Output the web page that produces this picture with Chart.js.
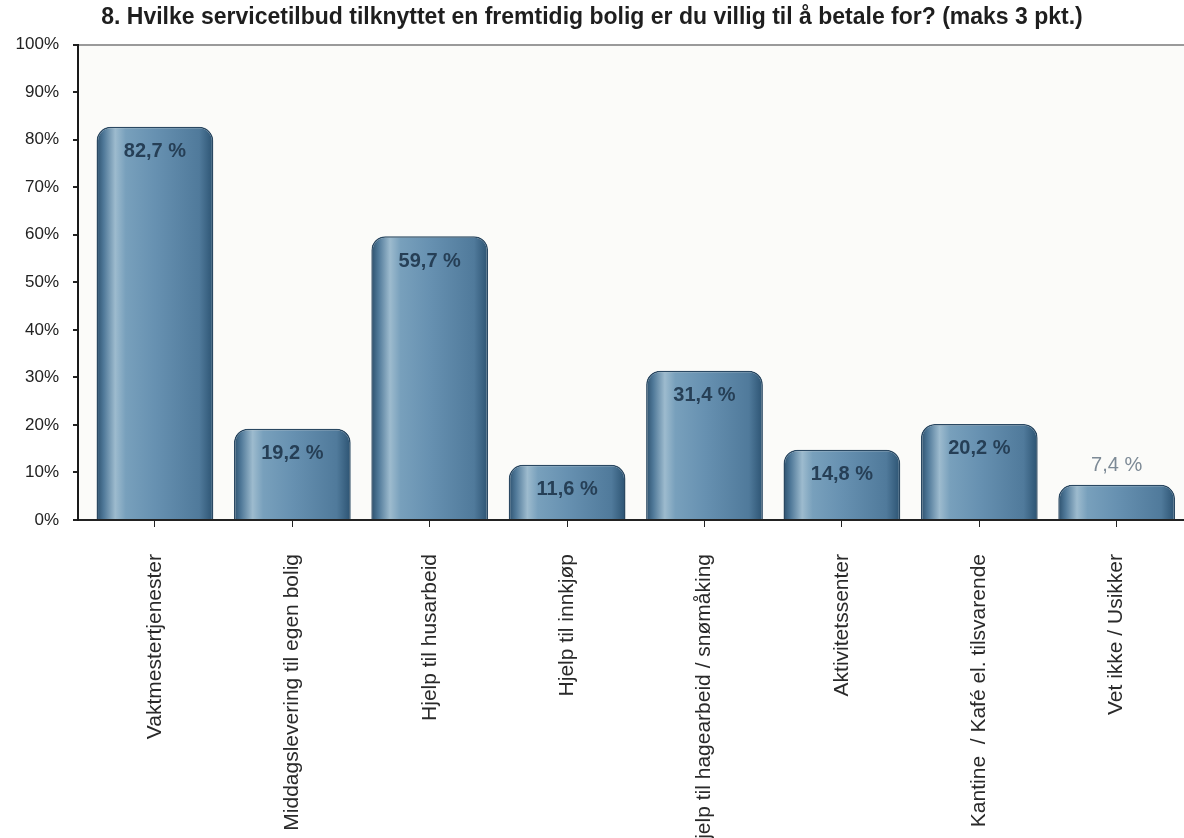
<!DOCTYPE html>
<html>
<head>
<meta charset="utf-8">
<script src="https://cdn.jsdelivr.net/npm/chart.js@4"></script>
<style>
  body { margin: 0; background: #fff; }
</style>
</head>
<body>
<canvas id="myChart" width="1184" height="838"></canvas>
<script>
// Answers per service offer, percent of respondents
let categories = [
    'Vaktmestertjenester',
    'Middagslevering til egen bolig',
    'Hjelp til husarbeid',
    'Hjelp til innkjøp',
    'Hjelp til hagearbeid / snømåking',
    'Aktivitetssenter',
    'Kantine  / Kafé el. tilsvarende',
    'Vet ikke / Usikker'
];
let shares = [82.7, 19.2, 59.7, 11.6, 31.4, 14.8, 20.2, 7.4];
let yTicks = [0, 10, 20, 30, 40, 50, 60, 70, 80, 90, 100];

let titleText = '8. Hvilke servicetilbud tilknyttet en fremtidig bolig er du villig til å betale for? (maks 3 pkt.)';
let fontFamily = '"Liberation Sans", Arial, sans-serif';
let barRatio = 0.85;

// shaded cylinder look, built per bar from the x scale
function barGradient(context) {
    let chart = context.chart;
    let xs = chart.scales.x;
    if (!xs || context.dataIndex === undefined) return '#5f87a5';
    let step = xs.getPixelForValue(1) - xs.getPixelForValue(0);
    let cx = xs.getPixelForValue(context.dataIndex);
    if (!isFinite(step) || !isFinite(cx) || step <= 0) return '#5f87a5';
    let half = step * barRatio / 2;
    let g = chart.ctx.createLinearGradient(cx - half, 0, cx + half, 0);
    g.addColorStop(0, '#2c506d');
    g.addColorStop(0.06, '#4f7898');
    g.addColorStop(0.16, '#9dbbce');
    g.addColorStop(0.25, '#78a0bc');
    g.addColorStop(0.5, '#6791b1');
    g.addColorStop(0.88, '#507a9b');
    g.addColorStop(1, '#2c5372');
    return g;
}

// plot background
let areaFill = {
    id: 'areaFill',
    beforeDraw(chart) {
        let a = chart.chartArea;
        chart.ctx.save();
        chart.ctx.fillStyle = '#fbfbf9';
        chart.ctx.fillRect(a.left, a.top, a.right - a.left, a.bottom - a.top);
        chart.ctx.restore();
    }
};

// "82,7 %" labels inside the bar tops, small bars get it above
let valueLabels = {
    id: 'valueLabels',
    afterDatasetsDraw(chart) {
        let ctx = chart.ctx;
        let meta = chart.getDatasetMeta(0);
        ctx.save();
        ctx.textAlign = 'center';
        ctx.textBaseline = 'middle';
        meta.data.forEach((bar, i) => {
            let v = shares[i];
            let txt = v.toFixed(1).replace('.', ',') + ' %';
            if (bar.base - bar.y > 45) {
                ctx.font = 'bold 20px ' + fontFamily;
                ctx.fillStyle = '#263f56';
                ctx.fillText(txt, bar.x, bar.y + 25);
            } else {
                ctx.font = '20px ' + fontFamily;
                ctx.fillStyle = '#7d8a96';
                ctx.fillText(txt, bar.x, bar.y - 19);
            }
        });
        ctx.restore();
    }
};

let ctx = document.getElementById('myChart').getContext('2d');
let myChart = new Chart(ctx, {
    type: 'bar',
    data: {
        datasets: [{
            data: shares.map((v, i) => ({ x: i, y: v })),
            backgroundColor: barGradient,
            borderColor: '#2a4862',
            borderWidth: 1.5,
            borderRadius: { topLeft: 14, topRight: 14, bottomLeft: 0, bottomRight: 0 },
            borderSkipped: 'bottom',
            categoryPercentage: 1,
            barPercentage: barRatio
        }]
    },
    plugins: [areaFill, valueLabels],
    options: {
        responsive: false,
        animation: false,
        layout: { padding: { left: 0, right: 0, top: 0, bottom: 0 } },
        plugins: {
            legend: { display: false },
            tooltip: { enabled: false },
            title: {
                display: true,
                text: titleText,
                color: '#1e1e1e',
                font: { family: fontFamily, size: 23, weight: 'bold' },
                padding: { top: 4, bottom: 13 }
            }
        },
        scales: {
            x: {
                type: 'linear',
                offset: false,
                min: -0.56,
                max: 7.49,
                afterFit: (scale) => { scale.height = 318; },
                afterBuildTicks: (scale) => {
                    scale.ticks = categories.map((c, i) => ({ value: i }));
                },
                ticks: {
                    autoSkip: false,
                    maxRotation: 90,
                    minRotation: 90,
                    padding: 27,
                    color: '#2a2a2a',
                    font: { family: fontFamily, size: 21 },
                    callback: (v) => categories[v]
                },
                grid: {
                    offset: false,
                    drawOnChartArea: false,
                    tickLength: 7,
                    tickColor: '#222'
                },
                border: { color: '#222', width: 2 }
            },
            y: {
                min: 0,
                max: 100,
                afterFit: (scale) => { scale.width = 78; },
                afterBuildTicks: (scale) => {
                    scale.ticks = yTicks.map(v => ({ value: v }));
                },
                ticks: {
                    padding: 14,
                    color: '#222',
                    font: { family: fontFamily, size: 17 },
                    callback: (v) => v + '%'
                },
                grid: {
                    color: (c) => c.tick && c.tick.value === 100 ? '#9a9a9a' : 'rgba(0,0,0,0)',
                    lineWidth: 2,
                    tickLength: 5,
                    tickColor: '#222'
                },
                border: { color: '#1a1a1a', width: 2 }
            }
        }
    }
});
</script>
</body>
</html>
